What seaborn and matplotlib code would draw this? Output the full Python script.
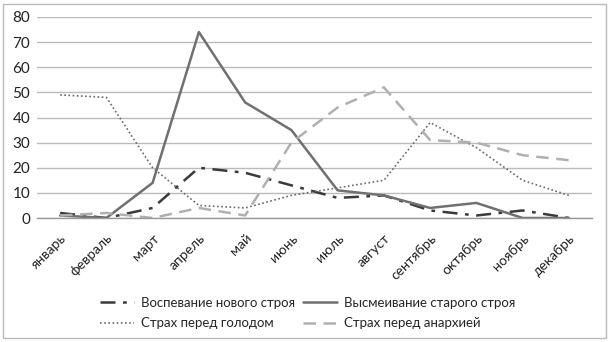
import matplotlib
matplotlib.use("Agg")
import matplotlib.pyplot as plt
import seaborn as sns
import pandas as pd
from matplotlib.patches import Rectangle

months = ["январь", "февраль", "март", "апрель", "май", "июнь", "июль",
          "август", "сентябрь", "октябрь", "ноябрь", "декабрь"]
vospevanie = [2, 0, 4, 20, 18, 13, 8, 9, 3, 1, 3, 0]
vysmeivanie = [1, 0, 14, 74, 46, 35, 11, 9, 4, 6, 0, 0]
golod = [49, 48, 20, 5, 4, 9, 12, 15, 38, 28, 15, 9]
anarkhiya = [1, 2, 0, 4, 1, 30, 44, 52, 31, 30, 25, 23]
series_names = ["Воспевание нового строя", "Высмеивание старого строя",
                "Страх перед голодом", "Страх перед анархией"]
yticks = [0, 10, 20, 30, 40, 50, 60, 70, 80]

sns.set_theme(style="white")
plt.rcParams['font.family'] = ['Lato', 'DejaVu Sans']

fig = plt.figure(figsize=(6.09, 3.42), dpi=100)
ax = fig.add_axes([37/609, 1-218/342, (592-37)/609, (218-17)/342])

x = list(range(len(months)))
styles = [
    dict(color="#3a3a3a", lw=1.8, dashes=(6, 3, 1.5, 3)),
    dict(color="#707070", lw=1.8, dashes=None),
    dict(color="#6a6a6a", lw=1.2, dashes=(1, 1.5)),
    dict(color="#b0b0b0", lw=1.8, dashes=(5, 3)),
]
handles = []
for vals, name, st in zip([vospevanie, vysmeivanie, golod, anarkhiya], series_names, styles):
    df = pd.DataFrame({"x": x, "y": vals})
    sns.lineplot(data=df, x="x", y="y", ax=ax, color=st["color"], lw=st["lw"], label=name)
    ln = ax.lines[-1]
    if st["dashes"] is not None:
        ln.set_dashes(st["dashes"])
    handles.append(ln)

ax.set_xlim(-0.5, 11.5)
ax.set_ylim(0, 80)
ax.set_yticks(yticks)
ax.set_yticklabels([str(v) for v in yticks], fontsize=11, color="#222222")
ax.set_xticks(x)
ax.set_xticklabels(months, rotation=45, ha="right", rotation_mode="anchor", fontsize=10, color="#222222")
ax.set_xticks([i - 0.5 for i in range(13)], minor=True)
ax.tick_params(axis="x", which="major", length=0, pad=10)
ax.tick_params(axis="x", which="minor", length=5, color="#999999", width=1, direction="out")
ax.tick_params(axis="y", length=0, pad=5)
ax.yaxis.grid(True, color="#bbbbbb", lw=1)
ax.set_axisbelow(True)
for s in ["left", "right", "top"]:
    ax.spines[s].set_visible(False)
ax.spines["bottom"].set_color("#999999")
ax.spines["bottom"].set_linewidth(1)
ax.set_xlabel("")
ax.set_ylabel("")
if ax.get_legend():
    ax.get_legend().remove()

order = [0, 2, 1, 3]
fig.legend(handles=[handles[i] for i in order], labels=[series_names[i] for i in order],
           ncol=2, loc="upper left",
           bbox_to_anchor=(88/609, 1-285/342), frameon=False, fontsize=9.5,
           handlelength=2.6, columnspacing=0.6, handletextpad=0.5, labelspacing=0.65)

fig.patches.append(Rectangle((3/609, 4/342), 603/609, 334/342, transform=fig.transFigure,
                             fill=False, edgecolor="#bbbbbb", lw=1))
fig.savefig("out.png", dpi=100)
